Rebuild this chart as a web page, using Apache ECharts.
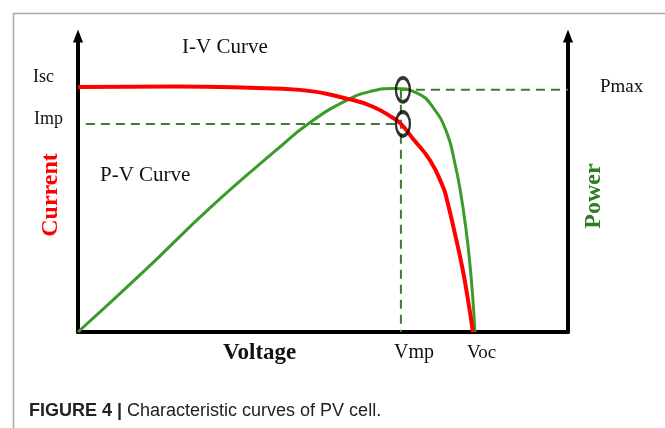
<!DOCTYPE html>
<html>
<head>
<meta charset="utf-8">
<script src="https://cdn.jsdelivr.net/npm/echarts@6/dist/echarts.min.js"></script>
<style>
  html, body { margin: 0; padding: 0; background: #fff; }
  #chart { width: 665px; height: 428px; }
</style>
</head>
<body>
<div id="chart"></div>
<script>
// I-V curve (current vs voltage), relative units
const ivVoltage = [0, 20, 35, 45.3, 55.5, 60.2, 64.3, 65.9, 68.4, 71.8, 74.5, 75.3, 76.9, 78.4, 79.6, 80.6];
const ivCurrent = [82.8, 82.9, 82.5, 81.8, 78.6, 76.1, 72.3, 70.3, 65.2, 58.1, 49.0, 44.6, 33.4, 22.0, 10.8, 0];

// P-V curve (power vs voltage)
const pvVoltage = [0, 13.7, 27.1, 40.5, 47.2, 55, 60, 64.5, 69.2, 72.4, 75.3, 76.9, 78.0, 79.2, 80.0, 80.6, 81.0];
const pvPower = [0, 20.9, 42.2, 61.5, 70.6, 78.4, 81.4, 82.3, 80.7, 76.0, 67.2, 57.1, 48.0, 34.5, 22.6, 10.8, 0];

// maximum power point
const vmp = 65.9;
const imp = 70.3;
const pmax = 81.8;
const impLineStart = 1.6;

const lineGreen = '#3b9b2a';
const dashGreen = '#3e7c33';
const serif = "'Liberation Serif', 'DejaVu Serif', serif";

let myChart = echarts.init(document.getElementById('chart'));

const dashStyle = { color: dashGreen, width: 2, type: [9, 6] };

let option = {
    backgroundColor: '#fff',
    animation: false,
    grid: { left: 78, right: 97, top: 36, bottom: 96 },
    xAxis: {
        type: 'value', min: 0, max: 100,
        axisLine: { show: true, onZero: false, lineStyle: { color: '#000', width: 4 } },
        axisTick: { show: false }, axisLabel: { show: false }, splitLine: { show: false }
    },
    yAxis: [
        {
            type: 'value', min: 0, max: 100, position: 'left',
            axisLine: { show: true, onZero: false, symbol: ['none', 'triangle'], symbolSize: [10, 13],
                lineStyle: { color: '#000', width: 4 } },
            axisTick: { show: false }, axisLabel: { show: false }, splitLine: { show: false }
        },
        {
            type: 'value', min: 0, max: 100, position: 'right',
            axisLine: { show: true, onZero: false, symbol: ['none', 'triangle'], symbolSize: [10, 13],
                lineStyle: { color: '#000', width: 4 } },
            axisTick: { show: false }, axisLabel: { show: false }, splitLine: { show: false }
        }
    ],
    series: [
        {
            name: 'Imp', type: 'line', showSymbol: false, silent: true,
            data: [[impLineStart, imp], [vmp, imp]], lineStyle: dashStyle
        },
        {
            name: 'Pmax', type: 'line', showSymbol: false, silent: true, yAxisIndex: 1,
            data: [[vmp, pmax], [100, pmax]], lineStyle: dashStyle
        },
        {
            name: 'Vmp', type: 'line', showSymbol: false, silent: true,
            data: [[vmp, pmax], [vmp, 0]], lineStyle: dashStyle
        },
        {
            name: 'P-V', type: 'line', yAxisIndex: 1, showSymbol: false, silent: true,
            smooth: 0.5,
            data: pvVoltage.map((v, i) => [v, pvPower[i]]),
            lineStyle: { color: lineGreen, width: 3 }
        },
        {
            name: 'I-V', type: 'line', showSymbol: false, silent: true,
            smooth: 0.5,
            data: ivVoltage.map((v, i) => [v, ivCurrent[i]]),
            lineStyle: { color: '#ff0000', width: 4 }
        },
        {
            name: 'MPP', type: 'scatter', silent: true, z: 5,
            symbol: 'circle', symbolSize: [14, 24], symbolOffset: [2, 0],
            data: [[vmp, pmax], [vmp, imp]],
            itemStyle: { color: 'rgba(0,0,0,0)', borderColor: '#000', borderWidth: 3 }
        }
    ],
    graphic: [
        { type: 'rect', shape: { x: 13.5, y: 13.5, width: 700, height: 500 },
          style: { fill: 'none', stroke: '#a9a9a9', lineWidth: 1.5 }, silent: true },
        { type: 'text', x: 182, y: 47, style: { text: 'I-V Curve', font: '21px ' + serif, fill: '#111', verticalAlign: 'middle', textVerticalAlign: 'middle' } },
        { type: 'text', x: 100, y: 175, style: { text: 'P-V Curve', font: '21px ' + serif, fill: '#111', verticalAlign: 'middle', textVerticalAlign: 'middle' } },
        { type: 'text', x: 33, y: 77, style: { text: 'Isc', font: '18px ' + serif, fill: '#111', verticalAlign: 'middle', textVerticalAlign: 'middle' } },
        { type: 'text', x: 34, y: 119, style: { text: 'Imp', font: '18px ' + serif, fill: '#111', verticalAlign: 'middle', textVerticalAlign: 'middle' } },
        { type: 'text', x: 600, y: 87, style: { text: 'Pmax', font: '19px ' + serif, fill: '#111', verticalAlign: 'middle', textVerticalAlign: 'middle' } },
        { type: 'text', x: 394, y: 353, style: { text: 'Vmp', font: '20px ' + serif, fill: '#111', verticalAlign: 'middle', textVerticalAlign: 'middle' } },
        { type: 'text', x: 467, y: 353, style: { text: 'Voc', font: '19px ' + serif, fill: '#111', verticalAlign: 'middle', textVerticalAlign: 'middle' } },
        { type: 'text', x: 223, y: 353, style: { text: 'Voltage', font: 'bold 23px ' + serif, fill: '#111', verticalAlign: 'middle', textVerticalAlign: 'middle' } },
        { type: 'text', x: 51, y: 195, rotation: Math.PI / 2,
          style: { text: 'Current', font: 'bold 24px ' + serif, fill: '#ff0000', align: 'center', textAlign: 'center', verticalAlign: 'middle', textVerticalAlign: 'middle' } },
        { type: 'text', x: 594, y: 196, rotation: Math.PI / 2,
          style: { text: 'Power', font: 'bold 24px ' + serif, fill: '#2f7d22', align: 'center', textAlign: 'center', verticalAlign: 'middle', textVerticalAlign: 'middle' } },
        { type: 'text', x: 29, y: 411,
          style: { text: '{b|FIGURE 4 |} Characteristic curves of PV cell.', font: "18px 'Liberation Sans', Arial, sans-serif", fill: '#222',
                   verticalAlign: 'middle', textVerticalAlign: 'middle',
                   rich: { b: { font: "bold 18px 'Liberation Sans', Arial, sans-serif", fill: '#222' } } } }
    ]
};

myChart.setOption(option);
</script>
</body>
</html>
